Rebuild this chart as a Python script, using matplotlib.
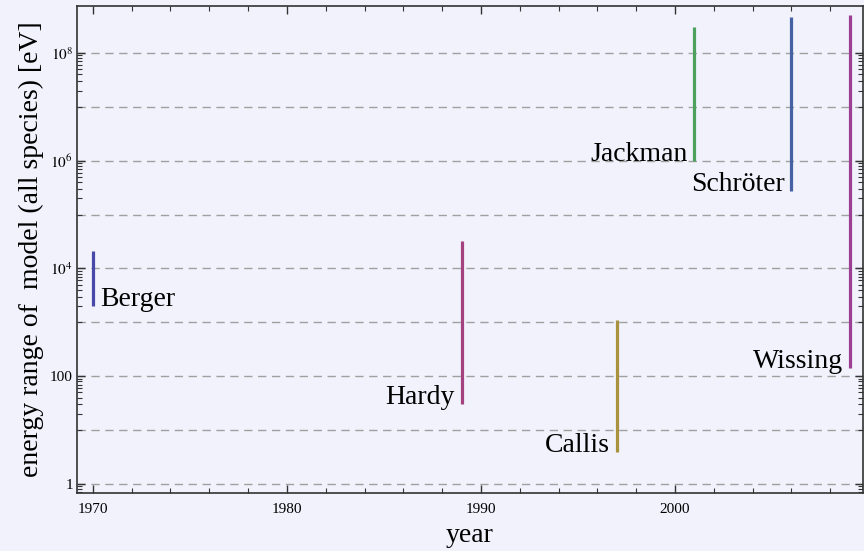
import matplotlib
matplotlib.use("Agg")
import matplotlib.pyplot as plt
from matplotlib.ticker import FixedLocator, FixedFormatter, MultipleLocator

# energy range covered by each stopping/ionisation model, per publication year
models = ["Berger", "Hardy", "Callis", "Jackman", "Schröter", "Wissing"]
years = [1970, 1989, 1997, 2001, 2006, 2009]
e_low = [2.0e3, 30, 4.0, 1.0e6, 2.7e5, 140]
e_high = [2.1e4, 3.2e4, 1.1e3, 3.0e8, 4.6e8, 5.0e8]
colors = ["#4848a8", "#a3427e", "#a8923e", "#4ca15e", "#4562a3", "#9b3f92"]
label_side = ["right", "left", "left", "left", "left", "left"]

bg = "#f2f2fd"
plt.rcParams["font.family"] = ["Liberation Serif", "DejaVu Serif"]
plt.rcParams["mathtext.fontset"] = "stix"

fig = plt.figure(figsize=(8.64, 5.51), dpi=100, facecolor=bg)
ax = fig.add_axes([0.0891, 0.1053, 0.9099, 0.8837], facecolor=bg)

ax.set_yscale("log")
ax.set_xlim(1969.18, 2009.7)
ax.set_ylim(0.68, 7.4e8)

for d in range(0, 9):
    ax.axhline(10.0 ** d, color="#a0a0a0", lw=1.0, ls=(0, (6, 4)), zorder=1)

for name, yr, lo, hi, c, side in zip(models, years, e_low, e_high, colors, label_side):
    ax.plot([yr, yr], [lo, hi], color=c, lw=2.3, solid_capstyle="butt", zorder=3)
    if side == "right":
        ax.annotate(name, (yr, lo), xytext=(5, 0), textcoords="offset points",
                    ha="left", va="baseline", fontsize=20)
    else:
        ax.annotate(name, (yr, lo), xytext=(-5, 0), textcoords="offset points",
                    ha="right", va="baseline", fontsize=20)

# y ticks: labels every second decade, small ticks in the decades between
major_y = [1, 1e2, 1e4, 1e6, 1e8]
major_y_labels = ["1", "100", r"$10^{4}$", r"$10^{6}$", r"$10^{8}$"]
ax.yaxis.set_major_locator(FixedLocator(major_y))
ax.yaxis.set_major_formatter(FixedFormatter(major_y_labels))
minor_y = [m * 10.0 ** e for e in (-1, 1, 3, 5, 7) for m in range(1, 10)]
ax.yaxis.set_minor_locator(FixedLocator(minor_y))
ax.yaxis.set_minor_formatter(FixedFormatter([]))

ax.xaxis.set_major_locator(MultipleLocator(10))
ax.xaxis.set_minor_locator(MultipleLocator(2))

ax.tick_params(which="both", direction="in", top=True, right=True,
               colors="#333333", labelcolor="black", labelsize=11)
ax.tick_params(which="major", length=6, width=1.0)
ax.tick_params(which="minor", length=3.5, width=0.8)
ax.tick_params(axis="x", pad=7)
ax.tick_params(axis="y", pad=3)

for s in ax.spines.values():
    s.set_color("#333333")
    s.set_linewidth(1.2)

ax.set_xlabel("year", fontsize=20, labelpad=5)
ax.set_ylabel("energy range of  model (all species) [eV]", fontsize=20, labelpad=4)

fig.savefig("out.png", dpi=100, facecolor=bg)
